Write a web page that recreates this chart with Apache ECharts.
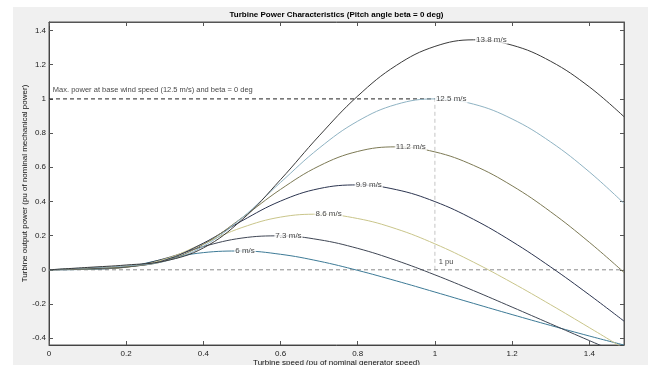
<!DOCTYPE html>
<html>
<head>
<meta charset="utf-8">
<script src="https://cdn.jsdelivr.net/npm/echarts@6/dist/echarts.min.js"></script>
<style>
  html, body { margin: 0; padding: 0; background: #fff; }
  #chart { width: 648px; height: 365px; }
</style>
</head>
<body>
<div id="chart"></div>
<script>
// Turbine speed (pu of nominal generator speed)
const speed = [0, 0.1, 0.2, 0.3, 0.4, 0.5, 0.6, 0.7, 0.8, 0.9, 1.0, 1.1, 1.2, 1.3, 1.4, 1.49];
// Turbine output power (pu) for each wind speed
const windLabels = ['6 m/s', '7.3 m/s', '8.6 m/s', '9.9 m/s', '11.2 m/s', '12.5 m/s', '13.8 m/s'];
const p6   = [0, 0.0027, 0.0178, 0.0624, 0.1006, 0.1100, 0.0908, 0.0505, -0.0034, -0.0649, -0.1302, -0.1965, -0.2620, -0.3258, -0.3873, -0.4403];
const p73  = [0, 0.0039, 0.0154, 0.0659, 0.1362, 0.1858, 0.1987, 0.1761, 0.1254, 0.0546, -0.0295, -0.1217, -0.2182, -0.3162, -0.4140, -0.5006];
const p86  = [0, 0.0054, 0.0148, 0.0619, 0.1537, 0.2472, 0.3084, 0.3254, 0.3000, 0.2394, 0.1519, 0.0449, -0.0755, -0.2044, -0.3382, -0.4605];
const p99  = [0, 0.0072, 0.0163, 0.0558, 0.1559, 0.2865, 0.4021, 0.4751, 0.4967, 0.4690, 0.3991, 0.2954, 0.1655, 0.0165, -0.1462, -0.3003];
const p112 = [0, 0.0092, 0.0192, 0.0513, 0.1487, 0.3040, 0.4705, 0.6075, 0.6927, 0.7194, 0.6899, 0.6113, 0.4918, 0.3393, 0.1614, -0.0153];
const p125 = [0, 0.0115, 0.0233, 0.0498, 0.1380, 0.3039, 0.5113, 0.7118, 0.8698, 0.9678, 1.0000, 0.9695, 0.8827, 0.7480, 0.5733, 0.3886];
const p138 = [0, 0.0140, 0.0281, 0.0515, 0.1279, 0.2928, 0.5276, 0.7838, 1.0167, 1.1961, 1.3072, 1.3457, 1.3144, 1.2201, 1.0706, 0.8959];
// Label anchor: maximum power point of each curve
const peakSpeed = [0.48, 0.584, 0.688, 0.792, 0.896, 1.0, 1.104];
const peakPower = [0.1106, 0.1992, 0.3257, 0.4968, 0.7193, 1.0, 1.3456];
// Reference (base) values
const baseSpeed = 1;
const basePower = 1;
const annoText = ['Max. power at base wind speed (12.5 m/s) and beta = 0 deg', '1 pu'];
const annoX = [0.01, 1.01];
const annoY = [1.05, 0.047];
// Tick values
const xTicks = [0, 0.2, 0.4, 0.6, 0.8, 1, 1.2, 1.4];
const yTicks = [-0.4, -0.2, 0, 0.2, 0.4, 0.6, 0.8, 1, 1.2, 1.4];

const curves = [p6, p73, p86, p99, p112, p125, p138];
const colors = ['#3d7a96', '#3f4654', '#c9c58a', '#2c3550', '#7d7a55', '#8fb3c3', '#3a3a3a'];
const FONT = 'Liberation Sans, Arial, sans-serif';
const fmt = v => String(+(+v).toFixed(2));

const series = [];
// reference dashed lines
series.push({
  type: 'line', silent: true, symbol: 'none', z: 1,
  data: [[0, basePower], [baseSpeed, basePower]],
  lineStyle: { color: '#222', width: 1, type: [4, 3] }
});
series.push({
  type: 'line', silent: true, symbol: 'none', z: 1,
  data: [[baseSpeed, 0], [baseSpeed, basePower]],
  lineStyle: { color: '#c4c4c4', width: 1, type: [4, 3] }
});
series.push({
  type: 'line', silent: true, symbol: 'none', z: 1,
  data: [[0, 0], [speed[speed.length - 1], 0]],
  lineStyle: { color: '#8a8a8a', width: 1, type: [4, 3] }
});
curves.forEach((arr, i) => {
  series.push({
    type: 'line', name: windLabels[i], symbol: 'none', z: 3,
    smooth: 0.4,
    data: speed.map((s, j) => [s, arr[j]]),
    lineStyle: { color: colors[i], width: 1 }
  });
});
series.push({
  type: 'scatter', symbolSize: 0, silent: true, z: 5,
  data: peakSpeed.map((s, i) => [s, peakPower[i], windLabels[i]]),
  label: {
    show: true, position: 'right', distance: 0,
    formatter: p => p.data[2],
    color: '#111', fontSize: 8, fontFamily: FONT,
    backgroundColor: '#fff', padding: [0, 1]
  }
});
series.push({
  type: 'scatter', symbolSize: 0, silent: true, z: 5,
  data: annoText.map((t, i) => [annoX[i], annoY[i], t]),
  label: {
    show: true, position: 'right', distance: 0,
    formatter: p => p.data[2],
    color: '#111', fontSize: 7.5, fontFamily: FONT
  }
});

const chart = echarts.init(document.getElementById('chart'), null, { renderer: 'canvas' });
chart.setOption({
  animation: false,
  backgroundColor: '#f0f0f0',
  textStyle: { fontFamily: FONT },
  graphic: [
    { type: 'rect', shape: { x: 0, y: 0, width: 13, height: 365 }, style: { fill: '#fff' }, silent: true },
    { type: 'rect', shape: { x: 0, y: 0, width: 648, height: 7 }, style: { fill: '#fff' }, silent: true },
    { type: 'text', silent: true,
      style: { text: 'Turbine Power Characteristics (Pitch angle beta = 0 deg)', x: 336.5, y: 15,
               align: 'center', verticalAlign: 'middle', textAlign: 'center', textVerticalAlign: 'middle',
               font: 'bold 8px ' + FONT, fill: '#000' } }
  ],
  grid: { left: 49, right: 24, top: 22, bottom: 20, show: true, backgroundColor: '#fff', borderColor: '#555', borderWidth: 1,
          containLabel: false, outerBoundsMode: 'none' },
  xAxis: [
    {
      type: 'value', min: 0, max: 1.49, position: 'bottom',
      name: 'Turbine speed (pu of nominal generator speed)', nameLocation: 'middle', nameGap: 14, nameMoveOverlap: false,
      nameTextStyle: { fontSize: 8, color: '#111', fontFamily: FONT },
      axisLine: { show: true, onZero: false, lineStyle: { color: '#444' } },
      axisTick: { show: true, inside: true, length: 4, customValues: xTicks, lineStyle: { color: '#555' } },
      axisLabel: { show: true, customValues: xTicks, formatter: fmt, fontSize: 8, color: '#222', margin: 5, fontFamily: FONT },
      splitLine: { show: false }
    },
    {
      type: 'value', min: 0, max: 1.49, position: 'top',
      axisLine: { show: true, onZero: false, lineStyle: { color: '#555' } },
      axisTick: { show: true, inside: true, length: 4, customValues: xTicks, lineStyle: { color: '#555' } },
      axisLabel: { show: false }, splitLine: { show: false }
    }
  ],
  yAxis: [
    {
      type: 'value', min: -0.44, max: 1.45, position: 'left',
      name: 'Turbine output power (pu of nominal mechanical power)', nameLocation: 'middle', nameGap: 20, nameMoveOverlap: false,
      nameTextStyle: { fontSize: 8, color: '#111', fontFamily: FONT },
      axisLine: { show: true, onZero: false, lineStyle: { color: '#444' } },
      axisTick: { show: true, inside: true, length: 4, customValues: yTicks, lineStyle: { color: '#555' } },
      axisLabel: { show: true, customValues: yTicks, formatter: fmt, fontSize: 8, color: '#222', margin: 3, fontFamily: FONT },
      splitLine: { show: false }
    },
    {
      type: 'value', min: -0.44, max: 1.45, position: 'right',
      axisLine: { show: true, onZero: false, lineStyle: { color: '#555' } },
      axisTick: { show: true, inside: true, length: 4, customValues: yTicks, lineStyle: { color: '#555' } },
      axisLabel: { show: false }, splitLine: { show: false }
    }
  ],
  series: series
});
</script>
</body>
</html>
